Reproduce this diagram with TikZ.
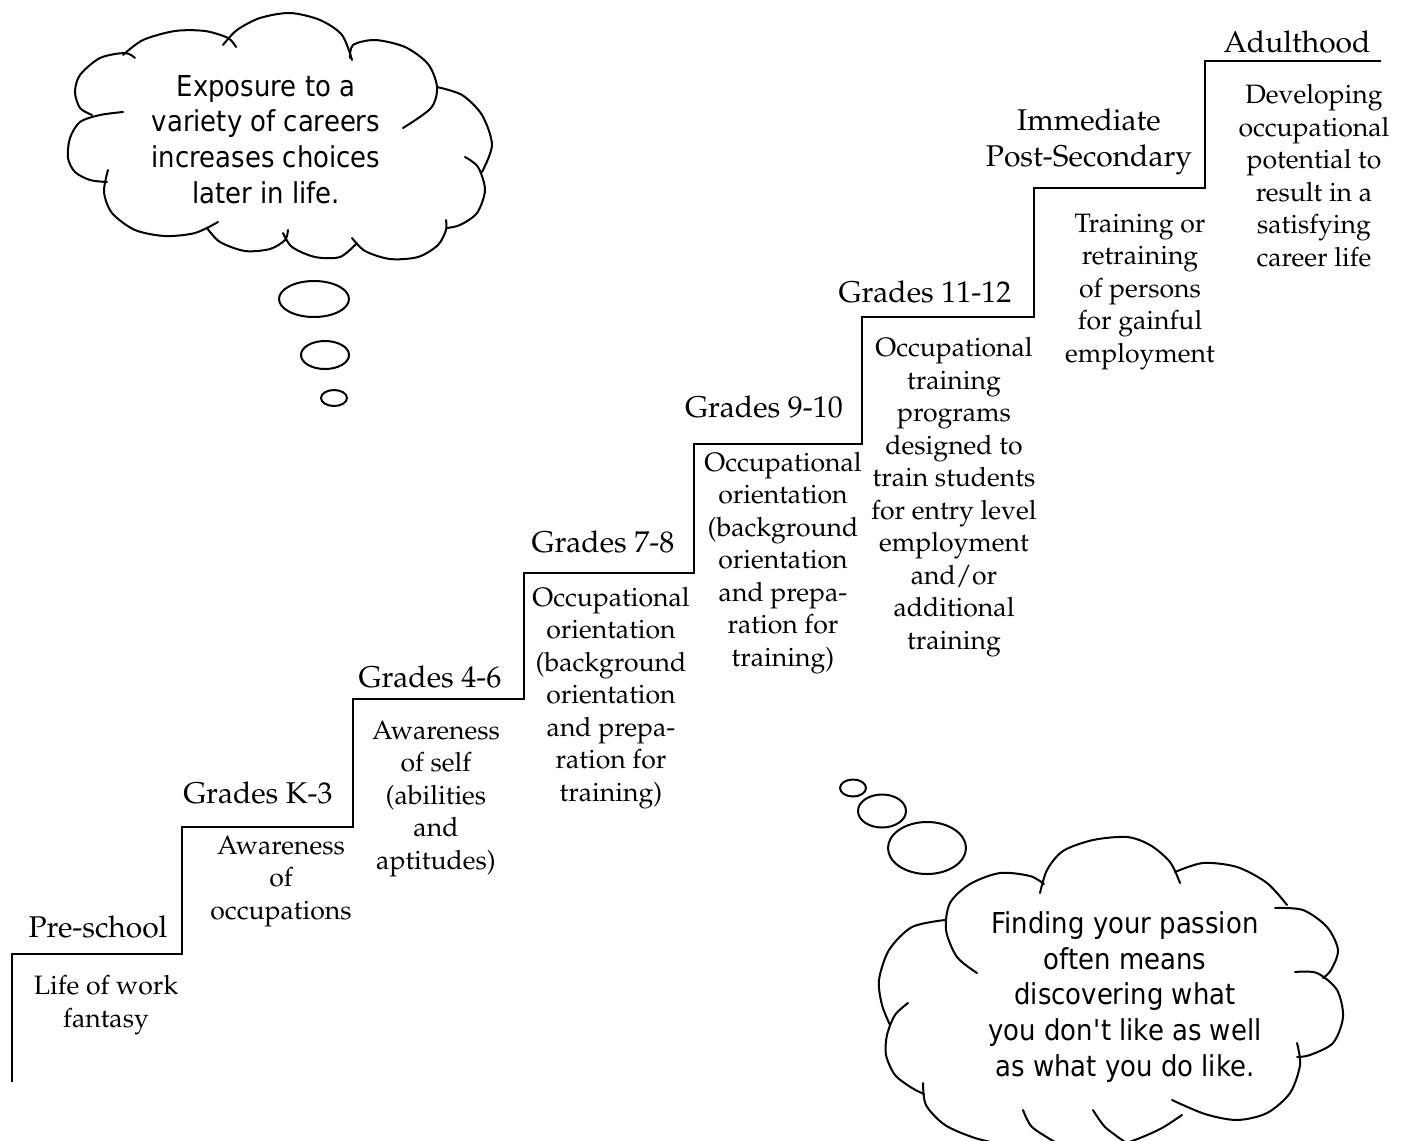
\documentclass[tikz,border=0pt]{standalone}
\usepackage[T1]{fontenc}
\usepackage{fontspec}
\newfontfamily\cloudfont{DejaVu Sans}[FakeStretch=0.9]
\newcommand\stairfont{\fontencoding{T1}\fontfamily{ppl}\selectfont}

\begin{document}
\begin{tikzpicture}[x=0.5pt,y=-0.5pt,
    stair/.style={line width=1.4pt},
    puff/.style={line width=1pt,line cap=round},
    steplabel/.style={font=\stairfont\fontsize{15}{18}\selectfont,align=center,anchor=base,inner sep=0pt},
    stepnote/.style={font=\stairfont\fontsize{13.3}{16.25}\selectfont,align=center,anchor=base,inner sep=0pt},
    thinktext/.style={font=\cloudfont\fontsize{14.4}{17.8}\selectfont,align=center,anchor=base,inner sep=0pt}]
    \clip (0,0) rectangle (1407,1140);
    \fill[white] (0,0) rectangle (1407,1140);
    \draw[stair] (12,1082) |- (182,954) |- (353,827) |- (524,699) |- (694,573)
        |- (862,444) |- (1034,317) |- (1205,188) |- (1381,61);
    \node[steplabel] (preschool) at (98,937) {Pre-school};
    \node[steplabel] (gradesK) at (258,803) {Grades K-3};
    \node[steplabel] (grades4) at (430,687) {Grades 4-6};
    \node[steplabel] (grades7) at (603,552) {Grades 7-8};
    \node[steplabel] (grades9) at (764,417) {Grades 9-10};
    \node[steplabel] (grades11) at (925,302) {Grades 11-12};
    \node[steplabel] (postsec) at (1089,166) {Immediate\\Post-Secondary};
    \node[steplabel] (adult) at (1297,52) {Adulthood};
    \node[stepnote] (fantasy) at (106,1027) {Life of work\\fantasy};
    \node[stepnote] (awareocc) at (281,919) {Awareness\\of\\occupations};
    \node[stepnote] (awareself) at (436,869) {Awareness\\of self\\(abilities\\and\\aptitudes)};
    \node[stepnote] (orientA) at (611,801) {Occupational\\orientation\\(background\\orientation\\and prepa-\\ration for\\training)};
    \node[stepnote] (orientB) at (783,666) {Occupational\\orientation\\(background\\orientation\\and prepa-\\ration for\\training)};
    \node[stepnote] (training) at (954,649) {Occupational\\training\\programs\\designed to\\train students\\for entry level\\employment\\and/or\\additional\\training};
    \node[stepnote] (retrain) at (1140,362) {Training or\\retraining\\of persons\\for gainful\\employment};
    \node[stepnote] (develop) at (1314,266) {Developing\\occupational\\potential to\\result in a\\satisfying\\career life};
    \draw[puff] plot[smooth] coordinates {(135,58) (125,53) (100,58) (80,75) (75,92) (80,108) (92,115)};
    \draw[puff] plot[smooth] coordinates {(123,55) (143,40) (175,31) (205,31) (228,38) (236,47)};
    \draw[puff] plot[smooth] coordinates {(223,45) (237,30) (260,18) (290,13) (320,20) (342,35) (352,60)};
    \draw[puff] plot[smooth] coordinates {(350,58) (353,45) (375,40) (405,47) (428,64) (437,87) (431,108) (403,128)};
    \draw[puff] plot[smooth] coordinates {(437,87) (462,95) (482,115) (492,145) (482,172)};
    \draw[puff] plot[smooth] coordinates {(465,157) (478,167) (485,190) (477,213) (460,225) (447,228)};
    \draw[puff] plot[smooth] coordinates {(352,238) (365,251) (390,259) (418,257) (438,245) (446,230) (446,220)};
    \draw[puff] plot[smooth] coordinates {(283,233) (292,247) (315,257) (340,257) (357,243)};
    \draw[puff] plot[smooth] coordinates {(207,228) (220,242) (245,251) (270,249) (285,240) (288,230)};
    \draw[puff] plot[smooth] coordinates {(108,170) (104,192) (112,213) (135,230) (165,236) (195,233) (218,222)};
    \draw[puff] plot[smooth] coordinates {(123,112) (100,115) (80,122) (70,138) (68,158) (75,172) (90,180) (107,182)};
    \node[thinktext] (exposure) at (266,203) {Exposure to a\\variety of careers\\increases choices\\later in life.};
    \draw[puff] (314,299) ellipse [x radius=35, y radius=18];
    \draw[puff] (325,355) ellipse [x radius=24, y radius=14];
    \draw[puff] (334,398) ellipse [x radius=13, y radius=8];
    \draw[puff] (853,788) ellipse [x radius=13, y radius=8.5];
    \draw[puff] (882,811) ellipse [x radius=24, y radius=16.5];
    \draw[puff] (927,848) ellipse [x radius=39, y radius=26];
    \draw[puff] plot[smooth] coordinates {(977,973) (957,957) (946,930) (950,903) (970,884) (1000,873) (1030,876) (1044,884)};
    \draw[puff] plot[smooth] coordinates {(1040,893) (1047,870) (1063,851) (1093,840) (1127,837) (1150,845) (1170,862) (1180,883)};
    \draw[puff] plot[smooth] coordinates {(1175,872) (1203,863) (1237,867) (1267,883) (1287,905)};
    \draw[puff] plot[smooth] coordinates {(1275,908) (1303,910) (1327,927) (1338,950) (1331,970) (1323,978)};
    \draw[puff] plot[smooth] coordinates {(1295,972) (1317,973) (1337,990) (1343,1017) (1333,1043) (1310,1055) (1297,1057)};
    \draw[puff] plot[smooth] coordinates {(1297,1043) (1300,1065) (1290,1093) (1267,1113) (1237,1120) (1205,1114) (1172,1100)};
    \draw[puff] plot[smooth] coordinates {(1182,1115) (1162,1128) (1140,1138) (1120,1145)};
    \draw[puff] plot[smooth] coordinates {(1093,1110) (1105,1127) (1125,1142)};
    \draw[puff] plot[smooth] coordinates {(1023,1110) (1032,1127) (1055,1142)};
    \draw[puff] plot[smooth] coordinates {(923,1083) (926,1105) (945,1125) (975,1138) (1005,1145)};
    \draw[puff] plot[smooth] coordinates {(908,1003) (895,1015) (887,1035) (886,1055) (895,1075) (912,1088) (924,1094)};
    \draw[puff] plot[smooth] coordinates {(945,920) (912,927) (889,950) (879,980) (882,1005) (890,1025)};
    \node[thinktext] (passion) at (1125,1076) {Finding your passion\\often means\\discovering what\\you don\textquotesingle t like as well\\as what you do like.};
\end{tikzpicture}
\end{document}
